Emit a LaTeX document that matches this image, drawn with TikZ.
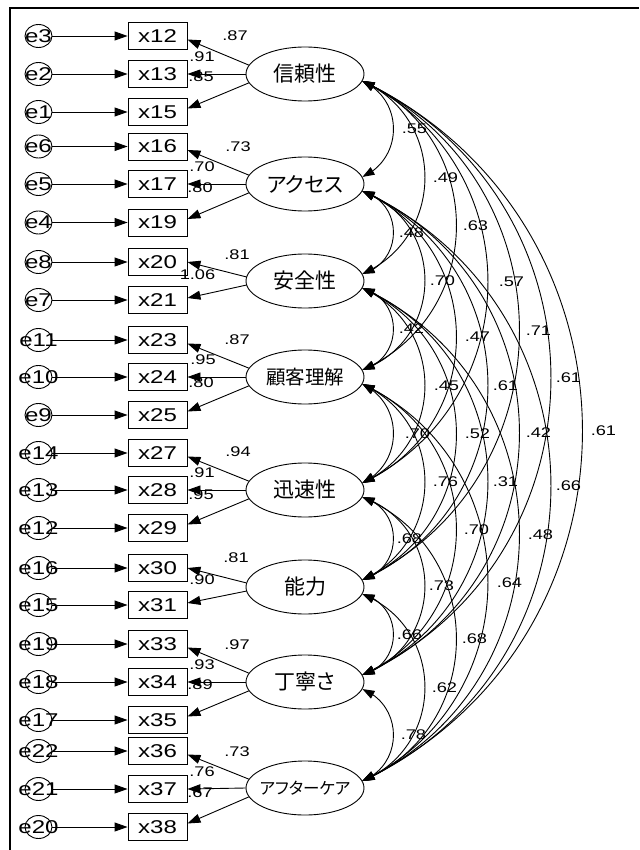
\documentclass[tikz,border=0pt]{standalone}
\usepackage{fontspec}
\setmainfont{Liberation Sans}[FakeStretch=1.3]
\newfontfamily\jp{Noto Sans CJK JP}[RawFeature=+palt]
\usetikzlibrary{arrows.meta,bending,calc,shapes.geometric}
\newcommand\covarc[6]{\draw[both] (#1.-7) .. controls ($(#1.-7)+(#3,#4)$) and ($(#2.7)+(#3,-#4)$) .. (#2.7) node[lbl,pos=.5,xshift=#5pt]{#6};}
\begin{document}
\begin{tikzpicture}[x=1pt,y=-1pt,line width=0.9pt,
  tip/.style={-{Triangle[length=13pt,width=9pt]}},
  both/.style={{Triangle[length=12pt,width=8.5pt]}-{Triangle[length=12pt,width=8.5pt]}},
  obs/.style={draw,rectangle,minimum width=59pt,minimum height=27pt,inner sep=0pt,font=\fontsize{18.5}{20}\selectfont},
  err/.style={draw,ellipse,minimum width=27pt,minimum height=23pt,inner sep=0pt,font=\fontsize{18.5}{20}\selectfont},
  lat/.style={draw,ellipse,minimum width=118pt,minimum height=54pt,inner sep=0pt,font=\jp\fontsize{21}{24}\selectfont},
  lbl/.style={inner sep=0pt,font=\fontsize{14}{16}\selectfont}]
\useasboundingbox (0,0) rectangle (639,850);
\draw[line width=2pt] (10.3,850) -- (10.3,8.3) -- (639,8.3);
% observed variables and errors
\foreach \n/\e/\y in {12/3/36,13/2/74,15/1/112,16/6/146.5,17/5/184,19/4/222.5,20/8/262,21/7/300,
  23/11/340,24/10/377,25/9/415,27/14/453,28/13/490,29/12/528,30/16/568,31/15/605,
  33/19/644,34/18/682,35/17/720,36/22/751,37/21/789,38/20/827}{
  \node[obs] (x\n) at (157.5,\y) {x\n};
  \node[err] (e\e) at (38.5,\y) {\makebox[0pt]{e\e}};
  \draw[tip] (e\e) -- (x\n);
}
% latent variables
\node[lat] (L1) at (305,74) {\makebox[0pt]{信頼性}};
\node[lat] (L2) at (305,184) {\makebox[0pt]{アクセス}};
\node[lat] (L3) at (305,281) {\makebox[0pt]{安全性}};
\node[lat,font=\jp\fontsize{19.5}{22}\selectfont] (L4) at (305,377) {\makebox[0pt]{顧客理解}};
\node[lat] (L5) at (305,490) {\makebox[0pt]{迅速性}};
\node[lat] (L6) at (305,587) {\makebox[0pt]{能力}};
\node[lat] (L7) at (305,682) {\makebox[0pt]{丁寧さ}};
\node[lat,font=\jp\fontsize{16.5}{20}\selectfont] (L8) at (305,788) {\makebox[0pt]{アフターケア}};
% loadings, three indicators
\foreach \L/\a/\b/\c in {L1/12/13/15,L2/16/17/19,L4/23/24/25,L5/27/28/29,L7/33/34/35,L8/36/37/38}{
  \draw[tip] (\L.171) -- ($(x\a.east)+(0,3.5)$);
  \draw[tip] (\L.west) -- (x\b.east);
  \draw[tip] (\L.189) -- ($(x\c.east)+(0,-3.5)$);
}
% loadings, two indicators
\foreach \L/\a/\b in {L3/20/21,L6/30/31}{
  \draw[tip] (\L.176) -- (x\a.east);
  \draw[tip] (\L.184) -- ($(x\b.east)+(0,-2)$);
}
% loading labels
\foreach \px/\py/\t in {235/36/.87,202/57/.91,201/77/.85,
  238/147/.73,202/167/.70,200/188/.80,
  237/255/.81,197.5/275/1.06,
  237/340/.87,203/360/.95,201/383/.80,
  238/452/.94,202/473/.91,201/495/.95,
  236/558/.81,202/580/.90,
  237/645/.97,202/665/.93,200/685/.89,
  237/752/.73,202/772/.76,200/793/.67}{
  \node[lbl] at (\px,\py) {\t};
}
% covariances
\covarc{L1}{L2}{41.33}{18.65}{21}{.55}
\covarc{L2}{L3}{41.33}{12.23}{18}{.48}
\covarc{L3}{L4}{41.33}{11.71}{18}{.42}
\covarc{L4}{L5}{41.33}{20.06}{24}{.70}
\covarc{L5}{L6}{41.33}{12.23}{16}{.68}
\covarc{L6}{L7}{41.33}{11.18}{16}{.66}
\covarc{L7}{L8}{41.33}{16.74}{20}{.78}
\covarc{L1}{L3}{83.33}{37.35}{20.5}{.49}
\covarc{L2}{L4}{83.33}{30.57}{17.5}{.70}
\covarc{L3}{L5}{83.33}{38.29}{21.5}{.45}
\covarc{L4}{L6}{83.33}{38.76}{20.5}{.76}
\covarc{L5}{L7}{83.33}{30.07}{16.5}{.73}
\covarc{L6}{L8}{83.33}{34.48}{19.5}{.62}
\covarc{L1}{L4}{125.33}{55.57}{19}{.63}
\covarc{L2}{L5}{125.33}{56.99}{21}{.47}
\covarc{L3}{L6}{125.33}{56.99}{21}{.52}
\covarc{L4}{L7}{125.33}{56.51}{20}{.70}
\covarc{L5}{L8}{125.33}{53.18}{18}{.68}
\covarc{L1}{L5}{167.33}{81.76}{23.5}{.57}
\covarc{L2}{L6}{167.33}{75.68}{17.5}{.61}
\covarc{L3}{L7}{167.33}{74.74}{17.5}{.31}
\covarc{L4}{L8}{167.33}{79.44}{21.5}{.64}
\covarc{L1}{L6}{209.33}{100.47}{19}{.71}
\covarc{L2}{L7}{209.33}{93.43}{19}{.42}
\covarc{L3}{L8}{209.33}{97.67}{21}{.48}
\covarc{L1}{L7}{251.33}{118.24}{17.5}{.61}
\covarc{L2}{L8}{251.33}{116.37}{17.5}{.66}
\covarc{L1}{L8}{293.33}{141.14}{21}{.61}
\end{tikzpicture}
\end{document}
